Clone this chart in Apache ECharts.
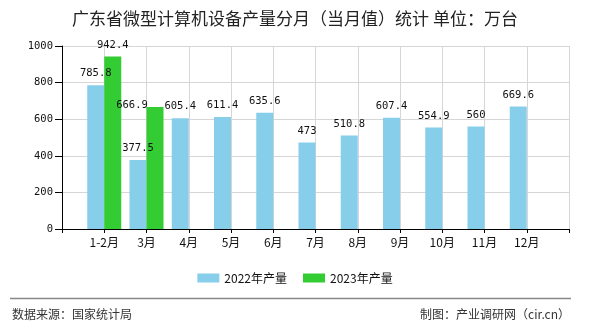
<!DOCTYPE html>
<html>
<head>
<meta charset="utf-8">
<script src="https://cdn.jsdelivr.net/npm/echarts@6/dist/echarts.min.js"></script>
<style>
html,body{margin:0;padding:0;background:#fff;}
#chart{width:590px;height:330px;}
</style>
</head>
<body>
<div id="chart"></div>
<script>
const categories = ['1-2月', '3月', '4月', '5月', '6月', '7月', '8月', '9月', '10月', '11月', '12月'];
const series2022 = [785.8, 377.5, 605.4, 611.4, 635.6, 473, 510.8, 607.4, 554.9, 560, 669.6];
const series2023 = [942.4, 666.9];
const yTicks = [0, 200, 400, 600, 800, 1000];
const titleText = '广东省微型计算机设备产量分月（当月值）统计 单位：万台';
const sourceText = '数据来源：国家统计局';
const makerText = '制图：产业调研网（cir.cn）';
const seriesNames = ['2022年产量', '2023年产量'];

// pad with empty slots at both ends so labels sit on ticks like the reference
const axisCats = [''].concat(categories, ['']);
const pad = arr => ['-'].concat(arr, new Array(axisCats.length - 1 - arr.length).fill('-'));
const data2022 = pad(series2022);
const data2023 = pad(series2023).map((v, i) => {
  if (i === 2) return { value: v, label: { offset: [-23, 10] } };
  return v;
});

const monoFont = '"DejaVu Sans Mono", "Liberation Mono", monospace';
const cjkFont = '"Noto Sans CJK SC", "Noto Sans", sans-serif';

const chart = echarts.init(document.getElementById('chart'), null, { renderer: 'canvas' });
chart.setOption({
  animation: false,
  backgroundColor: '#fff',
  title: {
    text: titleText,
    left: 'center',
    top: 5,
    textStyle: { fontSize: 17, fontWeight: 'normal', color: '#222', fontFamily: cjkFont }
  },
  legend: {
    data: seriesNames,
    top: 267,
    left: 'center',
    itemWidth: 22,
    itemHeight: 9,
    itemGap: 16,
    icon: 'rect',
    textStyle: { fontSize: 12, color: '#111', fontFamily: cjkFont }
  },
  grid: { left: 62, right: 21, top: 46, bottom: 101, containLabel: false },
  xAxis: {
    type: 'category',
    data: axisCats,
    boundaryGap: false,
    axisLine: { lineStyle: { color: '#000', width: 1 } },
    axisTick: { show: true, interval: 0, length: 4, lineStyle: { color: '#000' } },
    axisLabel: { interval: 0, margin: 7, fontSize: 12, color: '#111', fontFamily: cjkFont },
    splitLine: { show: true, interval: 0, lineStyle: { color: '#d6d6d6', width: 1 } }
  },
  yAxis: {
    type: 'value',
    min: yTicks[0],
    max: yTicks[yTicks.length - 1],
    interval: yTicks[1] - yTicks[0],
    axisLine: { show: true, lineStyle: { color: '#000', width: 1 } },
    axisTick: { show: true, length: 7, lineStyle: { color: '#000' } },
    axisLabel: { margin: 9, fontSize: 10.5, color: '#111', fontFamily: monoFont, formatter: v => String(v) },
    splitLine: { show: true, lineStyle: { color: '#d6d6d6', width: 1 } }
  },
  series: [
    {
      name: seriesNames[0],
      type: 'bar',
      data: data2022,
      barWidth: 17,
      barGap: '0%',
      itemStyle: { color: '#87CEEB' },
      label: { show: true, position: 'top', distance: 6, fontSize: 10.5, color: '#111', fontFamily: monoFont }
    },
    {
      name: seriesNames[1],
      type: 'bar',
      data: data2023,
      barWidth: 17,
      barGap: '0%',
      itemStyle: { color: '#33CC33' },
      label: { show: true, position: 'top', distance: 6, fontSize: 10.5, color: '#111', fontFamily: monoFont }
    }
  ],
  graphic: [
    {
      type: 'line',
      shape: { x1: 10, y1: 298.5, x2: 571, y2: 298.5 },
      style: { stroke: '#888', lineWidth: 1.5 }
    },
    {
      type: 'text',
      left: 12,
      top: 308,
      style: { text: sourceText, fontSize: 12, fill: '#333', fontFamily: cjkFont }
    },
    {
      type: 'text',
      right: 20,
      top: 308,
      style: { text: makerText, fontSize: 12, fill: '#333', fontFamily: cjkFont }
    }
  ]
});
</script>
</body>
</html>
